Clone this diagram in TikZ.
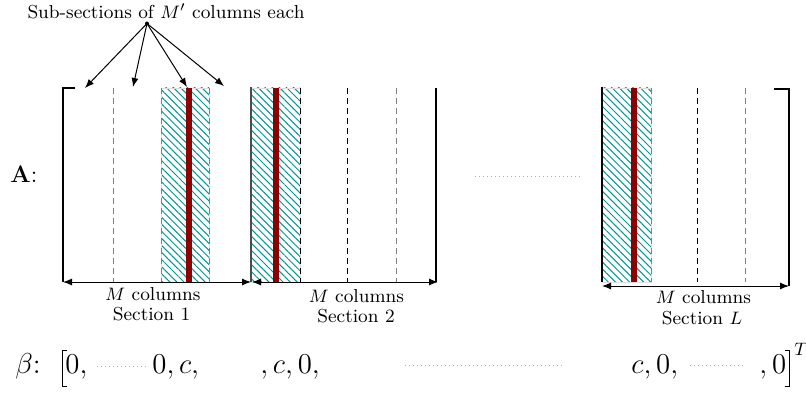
\documentclass[tikz,border=0pt]{standalone}
\usepackage{amsmath}
\usetikzlibrary{patterns,patterns.meta,arrows.meta}
\definecolor{hatchteal}{RGB}{0,150,150}
\definecolor{redline}{RGB}{139,0,0}
\begin{document}
\begin{tikzpicture}[x=0.5pt,y=-0.5pt,
  lbl/.style={inner sep=0pt,anchor=base,font=\fontsize{9.4}{11}\selectfont},
  bigtxt/.style={inner sep=0pt,anchor=base west,font=\Large},
  divider/.style={dash pattern=on 3pt off 2pt,line width=0.5pt},
  hatchbox/.style={pattern={Lines[angle=-45,distance=2.5pt,line width=0.5pt]},pattern color=hatchteal,draw=gray!25,line width=0.4pt},
  redcol/.style={line width=3pt,draw=redline},
  brk/.style={line width=0.8pt},
  thinbrk/.style={line width=0.5pt},
  span/.style={{Latex[length=4.5pt,width=3.5pt]}-{Latex[length=4.5pt,width=3.5pt]},line width=0.5pt},
  pointer/.style={-{Latex[length=4.5pt,width=3.5pt]},line width=0.5pt},
  fillerdots/.style={draw=gray!60,dash pattern=on 0.4pt off 1.6pt,line width=0.4pt}
]
\useasboundingbox (0,0) rectangle (806,395);

% ---- top label and pointers
\node[lbl] (toplabel) at (166,19) {Sub-sections of $M'$ columns each};
\coordinate (hub) at (147,23.5);
\fill (hub) circle (2);
\coordinate (t1) at (85,88);
\coordinate (t2) at (133,87);
\coordinate (t3) at (187,87);
\coordinate (t4) at (224,86);
\foreach \t in {t1,t2,t3,t4} \draw[pointer] (hub) -- (\t);

% ---- A label
\node[inner sep=0pt,anchor=base west,font=\large] (Alabel) at (10,183) {$\mathbf{A}$:};

% ---- hatched boxes
\path[hatchbox] (161,88) rectangle (209,282);
\path[hatchbox] (251,88) rectangle (300,282);
\path[hatchbox] (602,88) rectangle (651,282);

% ---- dividers
\draw[divider,gray] (113,88) -- (113,282);
\draw[divider,gray] (161,88) -- (161,282);
\draw[divider,gray] (209,88) -- (209,282);
\draw[divider,black] (300,88) -- (300,282);
\draw[divider,black] (347,88) -- (347,282);
\draw[divider,gray] (396,88) -- (396,282);
\draw[divider,gray] (651,88) -- (651,282);
\draw[divider,black] (697,88) -- (697,282);
\draw[divider,gray] (745,88) -- (745,282);

% ---- section boundaries
\draw[line width=0.6pt,black!70] (251,87) -- (251,282);
\draw[line width=0.6pt] (436,88) -- (436,282);
\draw[line width=0.6pt] (602,87) -- (602,282);

% ---- red columns
\draw[redcol] (189,88) -- (189,282);
\draw[redcol] (276,88) -- (276,282);
\draw[redcol] (634,88) -- (634,282);

% ---- brackets of A
\draw[brk] (75,88) -- (63,88) -- (63,282);
\draw[brk] (774,89) -- (789,89) -- (789,286);

% ---- spans
\coordinate (a1l) at (63,282); \coordinate (a1r) at (251,282);
\coordinate (a2l) at (252,282); \coordinate (a2r) at (438,282);
\coordinate (aLl) at (602,286); \coordinate (aLr) at (789,286);
\draw[span] (a1l) -- (a1r);
\draw[span] (a2l) -- (a2r);
\draw[span] (aLl) -- (aLr);

% ---- dotted filler in A row
\coordinate (dA1) at (475,176); \coordinate (dA2) at (580,176);
\draw[fillerdots] (dA1) -- (dA2);

% ---- section labels
\node[lbl] (m1) at (153,300) {$M$ columns};
\node[lbl] (s1) at (151.5,320) {Section 1};
\node[lbl] (m2) at (356.5,302) {$M$ columns};
\node[lbl] (s2) at (356,322) {Section 2};
\node[lbl] (mL) at (703.5,303) {$M$ columns};
\node[lbl] (sL) at (702,324) {Section $L$};

% ---- beta row
\node[bigtxt] (beta) at (15,373) {$\beta$:};
\draw[thinbrk] (67,350) -- (62.5,350) -- (62.5,386) -- (67,386);
\node[bigtxt] (b1) at (65,373) {$0,$};
\coordinate (db1) at (97,366); \coordinate (db2) at (147,366);
\draw[fillerdots] (db1) -- (db2);
\node[bigtxt] (b2) at (152,373) {$0, c,$};
\node[bigtxt] (b3) at (260,373) {$, c, 0,$};
\coordinate (db3) at (405,365); \coordinate (db4) at (565,365);
\draw[fillerdots] (db3) -- (db4);
\node[bigtxt] (b4) at (631,373) {$c, 0,$};
\coordinate (db5) at (690,365); \coordinate (db6) at (745,365);
\draw[fillerdots] (db5) -- (db6);
\node[bigtxt] (b5) at (759,373) {$, 0$};
\draw[thinbrk] (785,350) -- (789.5,350) -- (789.5,386) -- (785,386);
\node[inner sep=0pt,anchor=base west,font=\fontsize{9}{10}\selectfont] (sup) at (794,355) {$T$};
\end{tikzpicture}
\end{document}
